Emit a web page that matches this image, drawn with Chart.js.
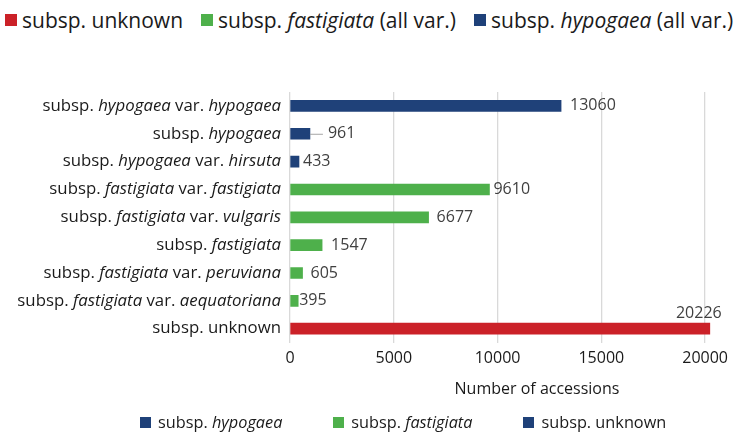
<!DOCTYPE html>
<html>
<head>
<meta charset="utf-8">
<script src="https://cdn.jsdelivr.net/npm/chart.js@4.4.1/dist/chart.umd.min.js"></script>
<style>
  html, body { margin: 0; padding: 0; background: #fff; overflow: hidden; width: 740px; height: 432px; }
  body { font-family: 'Open Sans', sans-serif; color: #1a1a1a; position: relative; }
  #wrap { position: absolute; left: 0; top: 0; width: 786px; height: 432px; }
  .legend { position: absolute; display: flex; align-items: center; white-space: nowrap; }
  .legend .item { display: flex; align-items: center; }
  .legend .swatch { display: inline-block; }
  #legend-top { left: 5px; top: 6px; font-size: 21px; }
  #legend-top .item { margin-right: 18px; }
  #legend-top .swatch { width: 12px; height: 12px; margin-right: 5px; }
  #legend-bottom { left: 140px; top: 411px; font-size: 16.3px; }
  #legend-bottom .item { margin-right: 51px; }
  #legend-bottom .swatch { width: 11px; height: 11px; margin-right: 7px; }
</style>
</head>
<body>
<div id="legend-top" class="legend"></div>
<div id="wrap"><canvas id="chart"></canvas></div>
<div id="legend-bottom" class="legend"></div>
<script>
// categories, top to bottom; *...* marks italic text
const categories = [
  'subsp. *hypogaea* var. *hypogaea*',
  'subsp. *hypogaea*',
  'subsp. *hypogaea* var. *hirsuta*',
  'subsp. *fastigiata* var. *fastigiata*',
  'subsp. *fastigiata* var. *vulgaris*',
  'subsp. *fastigiata*',
  'subsp. *fastigiata* var. *peruviana*',
  'subsp. *fastigiata* var. *aequatoriana*',
  'subsp. unknown'
]
const groups = ['hypogaea', 'hypogaea', 'hypogaea', 'fastigiata', 'fastigiata', 'fastigiata', 'fastigiata', 'fastigiata', 'unknown']
const counts = [13060, 961, 433, 9610, 6677, 1547, 605, 395, 20226]
const xTicks = [0, 5000, 10000, 15000, 20000]
const xMax = 23800

const topLegend = ['subsp. unknown', 'subsp. *fastigiata* (all var.)', 'subsp. *hypogaea* (all var.)']
const topLegendGroups = ['unknown', 'fastigiata', 'hypogaea']
const bottomLegend = ['subsp. *hypogaea*', 'subsp. *fastigiata*', 'subsp. unknown']
const bottomLegendGroups = ['hypogaea', 'fastigiata', 'hypogaea']

const colors = { hypogaea: '#1f4179', fastigiata: '#4eb04b', unknown: '#cb2128' }
// gap between bar end and value label (null = above the bar)
const labelGaps = [9, 18, 4, 4, 8, 9, 8, 1, null]

const FONT = "'Open Sans', sans-serif"
const LABEL_SIZE = 16.8

function parts(text) {
  return text.split('*').map((t, i) => ({ text: t, italic: i % 2 === 1 })).filter(p => p.text)
}

function fillLegend(el, labels, keys) {
  labels.forEach((label, i) => {
    const item = document.createElement('span')
    item.className = 'item'
    const sw = document.createElement('span')
    sw.className = 'swatch'
    sw.style.background = colors[keys[i]]
    item.appendChild(sw)
    const txt = document.createElement('span')
    parts(label).forEach(p => {
      const s = document.createElement(p.italic ? 'i' : 'span')
      s.textContent = p.text
      s.style.whiteSpace = 'pre'
      txt.appendChild(s)
    })
    item.appendChild(txt)
    el.appendChild(item)
  })
}
fillLegend(document.getElementById('legend-top'), topLegend, topLegendGroups)
fillLegend(document.getElementById('legend-bottom'), bottomLegend, bottomLegendGroups)

const categoryLabels = {
  id: 'categoryLabels',
  afterDraw(chart) {
    const { ctx, chartArea } = chart
    const yScale = chart.scales.y
    ctx.save()
    ctx.fillStyle = '#1a1a1a'
    ctx.textBaseline = 'middle'
    ctx.textAlign = 'left'
    categories.forEach((label, i) => {
      const ps = parts(label)
      const widths = ps.map(p => {
        ctx.font = (p.italic ? 'italic ' : '') + LABEL_SIZE + 'px ' + FONT
        return ctx.measureText(p.text).width
      })
      const total = widths.reduce((a, b) => a + b, 0)
      let x = chartArea.left - 9 - total
      const y = yScale.getPixelForValue(i)
      ps.forEach((p, k) => {
        ctx.font = (p.italic ? 'italic ' : '') + LABEL_SIZE + 'px ' + FONT
        ctx.fillText(p.text, x, y)
        x += widths[k]
      })
    })
    ctx.restore()
  }
}

const valueLabels = {
  id: 'valueLabels',
  afterDatasetsDraw(chart) {
    const { ctx } = chart
    const meta = chart.getDatasetMeta(0)
    ctx.save()
    ctx.font = '16px ' + FONT
    ctx.fillStyle = '#404040'
    ctx.textBaseline = 'middle'
    meta.data.forEach((bar, i) => {
      const text = String(counts[i])
      const gap = labelGaps[i]
      if (gap === null) {
        ctx.textAlign = 'center'
        ctx.fillText(text, bar.x - 11, bar.y - 15)
        return
      }
      if (gap > 12) {
        ctx.strokeStyle = '#a6a6a6'
        ctx.lineWidth = 1
        ctx.beginPath()
        ctx.moveTo(bar.x, bar.y + 0.5)
        ctx.lineTo(bar.x + gap - 5, bar.y + 0.5)
        ctx.stroke()
      }
      ctx.textAlign = 'left'
      ctx.fillText(text, bar.x + gap, bar.y)
    })
    ctx.restore()
  }
}

new Chart(document.getElementById('chart'), {
  type: 'bar',
  data: {
    labels: categories,
    datasets: [{
      data: counts,
      backgroundColor: groups.map(g => colors[g]),
      barThickness: 11
    }]
  },
  options: {
    indexAxis: 'y',
    responsive: true,
    maintainAspectRatio: false,
    animation: false,
    layout: { padding: { left: 290, top: 92, right: 2, bottom: 29 } },
    plugins: {
      legend: { display: false },
      tooltip: { enabled: false }
    },
    scales: {
      y: { display: false },
      x: {
        min: 0,
        max: xMax,
        afterBuildTicks: (scale) => {
          scale.ticks = xTicks.map(v => ({ value: v }))
        },
        ticks: {
          font: { family: FONT, size: 16 },
          color: '#1a1a1a',
          padding: 6,
          maxRotation: 0,
          callback: (value) => String(value)
        },
        grid: { color: '#d9d9d9', lineWidth: 1.3, drawTicks: false },
        border: { display: false },
        title: {
          display: true,
          text: 'Number of accessions',
          font: { family: FONT, size: 16 },
          color: '#1a1a1a',
          padding: { top: 6, bottom: 4 }
        }
      }
    }
  },
  plugins: [categoryLabels, valueLabels]
})
</script>
</body>
</html>
